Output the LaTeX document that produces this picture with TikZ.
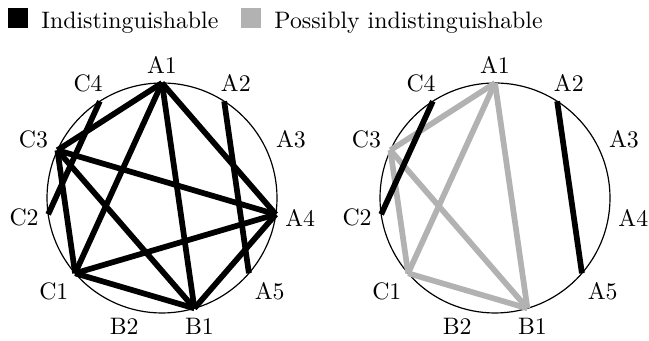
\documentclass[tikz,border=0pt]{standalone}
\usepackage{xcolor}
\usepackage{tikz}

\begin{document}
\begin{tikzpicture}[x=0.42pt, y=0.42pt,
        rim/.style={draw, line width=0.5pt},
        indist/.style={line width=2.4pt, draw=black},
        possible/.style={line width=2.4pt, draw=black!30},
        tag/.style={inner sep=3.4pt},
        legbox/.style={rectangle, minimum size=8.4pt, inner sep=0pt},
        legtext/.style={inner sep=0pt}
    ]
        \useasboundingbox (0,0) rectangle (649,341);

        % Legend (Top Row)
        \node (keyblack) [legbox, fill=black] at (18,323) {};
        \node (textblack) [legtext, anchor=base west] at (41,312) {Indistinguishable};
        \node (keygray) [legbox, fill=black!30] at (251,323) {};
        \node (textgray) [legtext, anchor=base west] at (274,312) {Possibly indistinguishable};

        % Circles
        \coordinate (lc) at (162,143);
        \coordinate (rc) at (495,143);
        \draw [rim] (lc) circle (115);
        \draw [rim] (rc) circle (115);

        % Points and labels on both circles
        \foreach \n [count=\i from 0] in {A1,A2,A3,A4,A5,B1,B2,C1,C2,C3,C4} {
            \pgfmathsetmacro\ang{90-\i*360/11}
            \pgfmathsetmacro\opp{270-\i*360/11}
            \coordinate (l\n) at ([shift={(\ang:115)}]lc);
            \coordinate (r\n) at ([shift={(\ang:115)}]rc);
            \node (l\n tag) [tag, anchor=\opp] at ([shift={(\ang:116)}]lc) {\n};
            \node (r\n tag) [tag, anchor=\opp] at ([shift={(\ang:116)}]rc) {\n};
        }

        % Flows - Left
        \foreach \u/\v in {A1/C3, A1/A4, A1/B1, A1/C1, A2/A5, C4/C2, C3/A4, C3/C1, C3/B1, C1/A4, C1/B1, B1/A4}
            \draw [indist] (l\u) -- (l\v);

        % Flows - Right
        \foreach \u/\v in {A1/C3, A1/C1, A1/B1, C3/C1, C3/B1, C1/B1}
            \draw [possible] (r\u) -- (r\v);
        \foreach \u/\v in {C4/C2, A2/A5}
            \draw [indist] (r\u) -- (r\v);
    \end{tikzpicture}
\end{document}
